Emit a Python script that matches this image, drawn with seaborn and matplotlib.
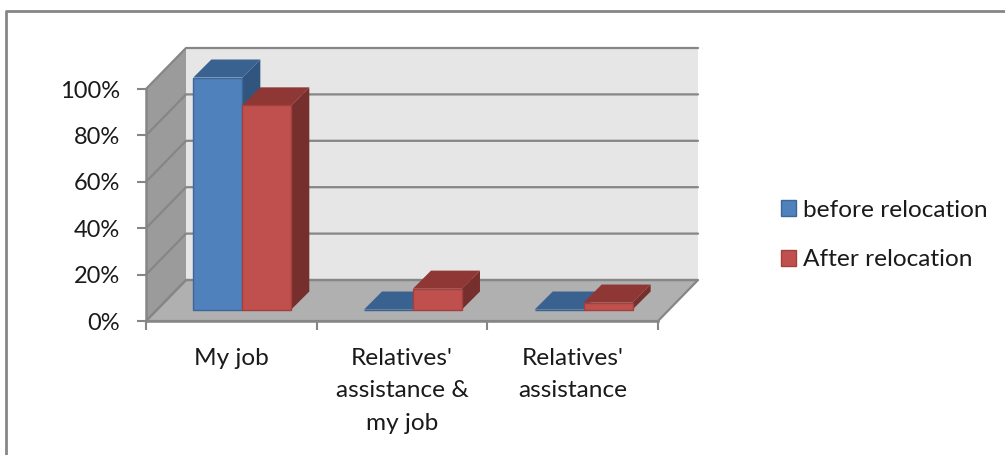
import matplotlib
matplotlib.use("Agg")
import matplotlib.pyplot as plt
import numpy as np
import pandas as pd
import seaborn as sns
from matplotlib.patches import Polygon
from matplotlib.lines import Line2D
from matplotlib.transforms import Affine2D, IdentityTransform

categories = ["My job", "Relatives'\nassistance &\nmy job", "Relatives'\nassistance"]
before_relocation = [100, 0, 0]
after_relocation = [88, 9, 3]
series_names = ["before relocation", "After relocation"]
y_ticks = [0, 20, 40, 60, 80, 100]

df = pd.DataFrame({
    "category": categories * 2,
    "value": before_relocation + after_relocation,
    "series": [series_names[0]] * 3 + [series_names[1]] * 3,
})

sns.set_theme(style="white")
plt.rcParams["font.family"] = ["Lato", "DejaVu Sans"]
W, H = 1005, 455
fig = plt.figure(figsize=(W / 100, H / 100), dpi=100, facecolor="white")
ax = fig.add_axes([146 / W, 1 - 321 / H, (658 - 146) / W, (321 - 89) / H])

FS = 17.6
FS_Y = 17.0
GREY = "#868686"
front = ["#4f81bd", "#c0504d"]
edge = ["#3d6797", "#a33f3c"]
top = ["#3a6291", "#8e3735"]
side = ["#32557f", "#772f2d"]

sns.barplot(data=df, x="category", y="value", hue="series", hue_order=series_names,
            palette=front, width=0.574, gap=0, saturation=1, legend=False, ax=ax, zorder=3)
ax.set_xlim(-0.5, 2.5)
ax.set_ylim(0, 100)
ax.set_xlabel("")
ax.set_ylabel("")
ax.patch.set_visible(False)
ax.grid(False)

DEPTH_X, DEPTH_Y = 40, 41   # wall depth in pixels
BAR_OFF = 11.5              # bars stand this far into the floor
BAR_D = 18                  # bar depth


def px(x, y, dx=0, dy=0):
    p = ax.transData.transform((x, y))
    return (p[0] + dx, p[1] + dy)


def poly(points, fc, ec="none", lw=0, z=1):
    ax.add_patch(Polygon(points, closed=True, facecolor=fc, edgecolor=ec, linewidth=lw,
                         transform=IdentityTransform(), clip_on=False, zorder=z))


x0, x1 = ax.get_xlim()
# walls and floor
poly([px(x0, 0, DEPTH_X, DEPTH_Y), px(x1, 0, DEPTH_X, DEPTH_Y),
      px(x1, 100, DEPTH_X, DEPTH_Y), px(x0, 100, DEPTH_X, DEPTH_Y)], "#e6e6e6", z=0.5)
poly([px(x0, 0), px(x0, 0, DEPTH_X, DEPTH_Y), px(x0, 100, DEPTH_X, DEPTH_Y), px(x0, 100)],
     "#9b9b9b", z=0.6)
poly([px(x0, 0), px(x1, 0), px(x1, 0, DEPTH_X, DEPTH_Y), px(x0, 0, DEPTH_X, DEPTH_Y)],
     "#b0b0b0", ec=GREY, lw=1.6, z=0.7)

for t in y_ticks:
    a, b, c = px(x0, t), px(x0, t, DEPTH_X, DEPTH_Y), px(x1, t, DEPTH_X, DEPTH_Y)
    ax.add_line(Line2D([a[0], b[0], c[0]], [a[1], b[1], c[1]], color=GREY, lw=1.6,
                       transform=IdentityTransform(), clip_on=False, zorder=0.8))

# bars with depth faces derived from the bars that seaborn drew
shift = ax.transData + Affine2D().translate(BAR_OFF - 0.5, BAR_OFF)
for i, cont in enumerate(ax.containers):
    for patch in cont.patches:
        bx0, bw, bh = patch.get_x(), patch.get_width(), patch.get_height()
        bx1 = bx0 + bw
        z = 3 + i
        ox, oy = BAR_OFF - 0.5, BAR_OFF
        poly([px(bx1, 0, ox, oy), px(bx1, 0, ox + BAR_D, oy + BAR_D),
              px(bx1, bh, ox + BAR_D, oy + BAR_D), px(bx1, bh, ox, oy)], side[i], z=z)
        poly([px(bx0, bh, ox, oy), px(bx1, bh, ox, oy),
              px(bx1, bh, ox + BAR_D, oy + BAR_D), px(bx0, bh, ox + BAR_D, oy + BAR_D)], top[i], z=z + 0.1)
        patch.set_transform(shift)
        patch.set_clip_on(False)
        patch.set_edgecolor(edge[i] if bh > 0 else top[i])
        patch.set_linewidth(1.0)
        patch.set_zorder(z + 0.2)

# axes
for s in ["top", "right"]:
    ax.spines[s].set_visible(False)
for s in ["left", "bottom"]:
    ax.spines[s].set_color(GREY)
    ax.spines[s].set_linewidth(1.8)
    ax.spines[s].set_zorder(2)
ax.set_yticks(y_ticks)
ax.set_yticklabels([f"{t}%" for t in y_ticks])
ax.tick_params(axis="y", length=6.5, width=1.5, color=GREY, pad=12, labelsize=FS_Y, labelcolor="#1a1a1a", left=True)
ax.set_xticks([-0.5, 0.5, 1.5, 2.5], minor=True)
ax.tick_params(axis="x", which="minor", length=6.5, width=1.5, color=GREY, bottom=True)
ax.tick_params(axis="x", which="major", length=0, pad=19.2, labelsize=FS, labelcolor="#1a1a1a")
for lab in ax.get_xticklabels():
    lab.set_linespacing(1.68)
    lab.set_ha("center")

# legend
handles = [c.patches[0] for c in ax.containers]
hs = 15 / (100 / 72) / FS
ax.legend(handles, series_names, loc="center left", bbox_to_anchor=(781 / W, 1 - 235 / H),
          bbox_transform=fig.transFigure, frameon=False, fontsize=FS, borderpad=0, borderaxespad=0,
          handlelength=hs, handleheight=hs, handletextpad=0.29, labelspacing=1.17,
          labelcolor="#1a1a1a")

# chart frame
fig.add_artist(Line2D([6 / W, 6 / W, 1], [0, 1 - 10.5 / H, 1 - 10.5 / H], color=GREY, lw=2,
                      transform=fig.transFigure))

fig.savefig("out.png", dpi=100, facecolor="white")
